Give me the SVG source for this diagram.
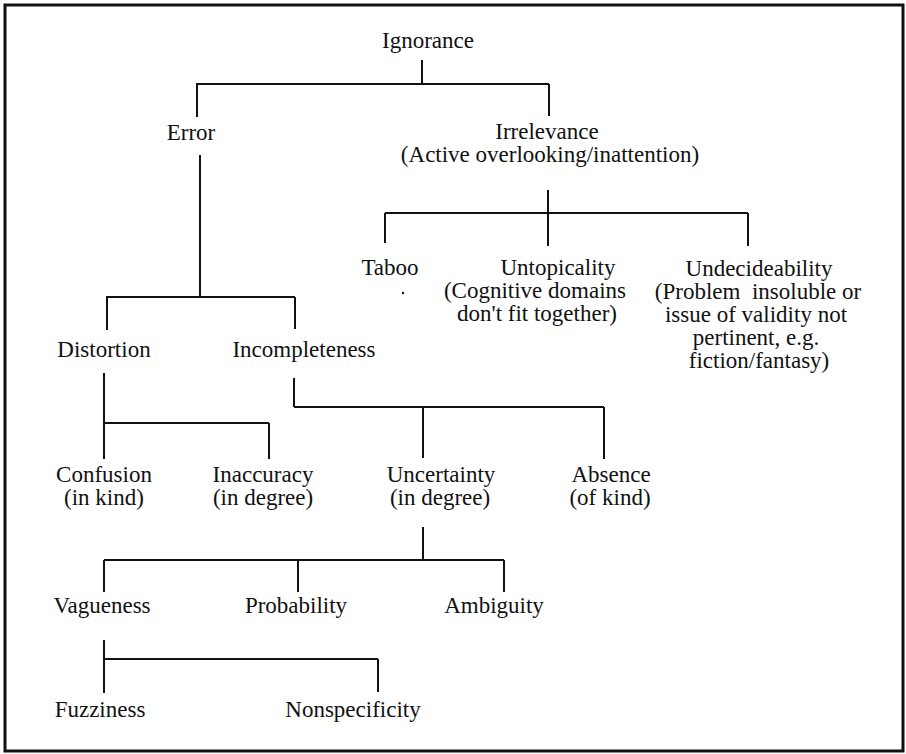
<svg xmlns="http://www.w3.org/2000/svg" width="906" height="754" viewBox="0 0 906 754">
<style>
text{font-family:"Liberation Serif","Times New Roman",serif;font-size:23px;fill:#111;text-anchor:middle}
.c line{stroke:#111;stroke-width:2;fill:none}
</style>
<rect x="0" y="0" width="906" height="754" fill="#fff"/>
<rect x="5" y="5" width="898" height="746" fill="none" stroke="#111" stroke-width="3"/>
<g class="c" id="connectors">
<line x1="422" y1="60" x2="422" y2="84"/>
<line x1="196" y1="84" x2="549" y2="84"/>
<line x1="197" y1="84" x2="197" y2="117"/>
<line x1="549" y1="84" x2="549" y2="116"/>
<line x1="200" y1="155" x2="200" y2="297"/>
<line x1="106" y1="297" x2="295" y2="297"/>
<line x1="107" y1="297" x2="107" y2="330"/>
<line x1="295" y1="297" x2="295" y2="329"/>
<line x1="548" y1="190" x2="548" y2="246"/>
<line x1="385" y1="213" x2="748" y2="213"/>
<line x1="385" y1="213" x2="385" y2="243"/>
<line x1="748" y1="213" x2="748" y2="246"/>
<line x1="104" y1="373" x2="104" y2="459"/>
<line x1="104" y1="423" x2="269" y2="423"/>
<line x1="269" y1="423" x2="269" y2="459"/>
<line x1="294" y1="378" x2="294" y2="407"/>
<line x1="294" y1="407" x2="604" y2="407"/>
<line x1="423" y1="407" x2="423" y2="458"/>
<line x1="604" y1="407" x2="604" y2="459"/>
<line x1="423" y1="527" x2="423" y2="560"/>
<line x1="104" y1="560" x2="504" y2="560"/>
<line x1="104" y1="560" x2="104" y2="592"/>
<line x1="298" y1="560" x2="298" y2="592"/>
<line x1="504" y1="560" x2="504" y2="592"/>
<line x1="104" y1="640" x2="104" y2="693"/>
<line x1="104" y1="659" x2="378" y2="659"/>
<line x1="378" y1="659" x2="378" y2="692"/>
</g>
<circle cx="403" cy="293" r="1.2" fill="#111"/>
<g id="ignorance"><text x="428" y="48">Ignorance</text></g>
<g id="error"><text x="191" y="140">Error</text></g>
<g id="irrelevance"><text x="547" y="139">Irrelevance</text><text x="550" y="162">(Active overlooking/inattention)</text></g>
<g id="taboo"><text x="390" y="275">Taboo</text></g>
<g id="untopicality"><text x="558" y="275">Untopicality</text><text x="535" y="298">(Cognitive domains</text><text x="537" y="321">don't fit together)</text></g>
<g id="undecideability"><text x="759" y="276">Undecideability</text><text x="758" y="299" xml:space="preserve">(Problem  insoluble or</text><text x="756" y="322">issue of validity not</text><text x="756" y="345">pertinent, e.g.</text><text x="759" y="368">fiction/fantasy)</text></g>
<g id="distortion"><text x="104" y="357">Distortion</text></g>
<g id="incompleteness"><text x="304" y="357">Incompleteness</text></g>
<g id="confusion"><text x="104" y="482">Confusion</text><text x="104" y="505">(in kind)</text></g>
<g id="inaccuracy"><text x="263" y="482">Inaccuracy</text><text x="263" y="505">(in degree)</text></g>
<g id="uncertainty"><text x="441" y="482">Uncertainty</text><text x="440" y="505">(in degree)</text></g>
<g id="absence"><text x="611" y="482">Absence</text><text x="610" y="505">(of kind)</text></g>
<g id="vagueness"><text x="102" y="613">Vagueness</text></g>
<g id="probability"><text x="296" y="613">Probability</text></g>
<g id="ambiguity"><text x="494" y="613">Ambiguity</text></g>
<g id="fuzziness"><text x="100" y="717">Fuzziness</text></g>
<g id="nonspecificity"><text x="353" y="717">Nonspecificity</text></g>
</svg>
